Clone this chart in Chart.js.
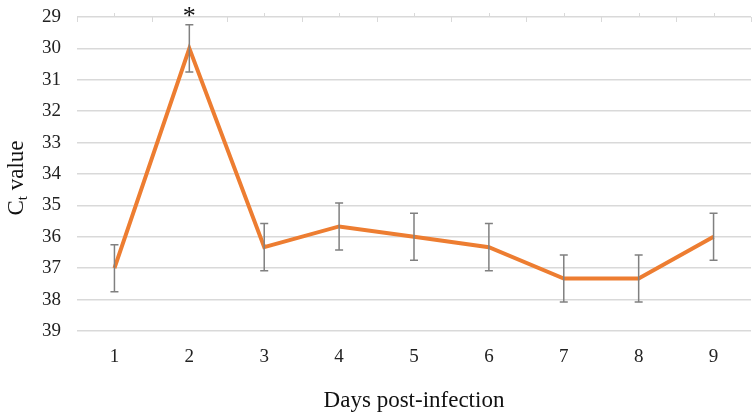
<!DOCTYPE html>
<html>
<head>
<meta charset="utf-8">
<script src="https://cdn.jsdelivr.net/npm/chart.js@4/dist/chart.umd.min.js"></script>
<style>
html,body{margin:0;padding:0;background:#fff;}
#wrap{width:752px;height:415px;position:relative;}
</style>
</head>
<body>
<div id="wrap"><canvas id="c" width="752" height="415"></canvas></div>
<script>
const days = ['1','2','3','4','5','6','7','8','9'];
const ctValues = [37.0, 30.0, 36.33, 35.67, 36.0, 36.33, 37.33, 37.33, 36.0];
const ctErrors = [0.75, 0.75, 0.75, 0.75, 0.75, 0.75, 0.75, 0.75, 0.75];
const significance = ['', '*', '', '', '', '', '', '', ''];
const yMin = 29, yMax = 39, yStep = 1;
const xTitle = 'Days post-infection';

const FONT = "'Liberation Serif', 'DejaVu Serif', serif";

const errorBars = {
  id: 'errorBars',
  afterDatasetsDraw(chart) {
    const {ctx, scales: {x, y}} = chart;
    ctx.save();
    ctx.strokeStyle = '#808080';
    ctx.lineWidth = 1.5;
    ctValues.forEach((v, i) => {
      const px = x.getPixelForValue(i);
      const top = y.getPixelForValue(v - ctErrors[i]);
      const bot = y.getPixelForValue(v + ctErrors[i]);
      ctx.beginPath();
      ctx.moveTo(px, top); ctx.lineTo(px, bot);
      ctx.moveTo(px - 4, top); ctx.lineTo(px + 4, top);
      ctx.moveTo(px - 4, bot); ctx.lineTo(px + 4, bot);
      ctx.stroke();
      if (significance[i]) {
        ctx.fillStyle = '#111';
        ctx.font = '26px ' + FONT;
        ctx.textAlign = 'center';
        ctx.textBaseline = 'alphabetic';
        ctx.fillText(significance[i], px, top - 1);
      }
    });
    ctx.restore();
  }
};

const topAxisTicks = {
  id: 'topAxisTicks',
  beforeDatasetsDraw(chart) {
    const {ctx, scales: {x, y}} = chart;
    const y0 = y.getPixelForValue(yMin);
    ctx.save();
    ctx.strokeStyle = '#d9d9d9';
    ctx.lineWidth = 1;
    for (let i = 0; i < days.length; i++) {
      const px = Math.round(x.getPixelForValue(i)) + 0.5;
      ctx.beginPath(); ctx.moveTo(px, y0); ctx.lineTo(px, y0 - 4); ctx.stroke();
    }
    for (let i = 0; i <= days.length; i++) {
      const px = Math.round(x.getPixelForValue(i - 0.5)) + 0.5;
      ctx.beginPath(); ctx.moveTo(px, y0); ctx.lineTo(px, y0 + 5); ctx.stroke();
    }
    ctx.restore();
  }
};

const yTitle = {
  id: 'yTitle',
  afterDraw(chart) {
    const {ctx, chartArea} = chart;
    const cy = (chartArea.top + chartArea.bottom) / 2 + 4;
    ctx.save();
    ctx.translate(23, cy);
    ctx.rotate(-Math.PI / 2);
    ctx.fillStyle = '#111';
    ctx.textBaseline = 'alphabetic';
    ctx.textAlign = 'left';
    const big = '23px ' + FONT, small = '15px ' + FONT;
    ctx.font = big;
    const wC = ctx.measureText('C').width;
    const wV = ctx.measureText(' value').width;
    ctx.font = small;
    const wT = ctx.measureText('t').width;
    const total = wC + wT + wV;
    let xx = -total / 2;
    ctx.font = big; ctx.fillText('C', xx, 0); xx += wC;
    ctx.font = small; ctx.fillText('t', xx, 4); xx += wT;
    ctx.font = big; ctx.fillText(' value', xx, 0);
    ctx.restore();
  }
};

new Chart(document.getElementById('c'), {
  type: 'line',
  data: {
    labels: days,
    datasets: [{
      data: ctValues,
      borderColor: '#ED7D31',
      borderWidth: 4,
      pointRadius: 0,
      tension: 0,
      fill: false
    }]
  },
  options: {
    responsive: false,
    animation: false,
    devicePixelRatio: 1,
    layout: { padding: { top: 17, right: 1, left: 0, bottom: 0 } },
    plugins: { legend: { display: false }, tooltip: { enabled: false }, title: { display: false } },
    scales: {
      x: {
        type: 'category',
        offset: true,
        grid: { display: false, drawTicks: false },
        border: { display: false },
        ticks: { color: '#222', font: { family: FONT, size: 19 }, padding: 15, maxRotation: 0 },
        title: { display: true, text: xTitle, color: '#111', font: { family: FONT, size: 23 }, padding: { top: 0, bottom: 0 } },
        afterFit(scale) { scale.height = 84; scale.paddingLeft = 0; scale.paddingRight = 0; }
      },
      y: {
        reverse: true,
        min: yMin, max: yMax,
        ticks: { stepSize: yStep, color: '#222', font: { family: FONT, size: 19 }, padding: 16 },
        grid: { color: '#d9d9d9', lineWidth: 1.5, drawTicks: false },
        border: { display: false },
        afterFit(scale) { scale.width = 77; scale.paddingTop = 0; scale.paddingBottom = 0; }
      }
    }
  },
  plugins: [topAxisTicks, errorBars, yTitle]
});
</script>
</body>
</html>
